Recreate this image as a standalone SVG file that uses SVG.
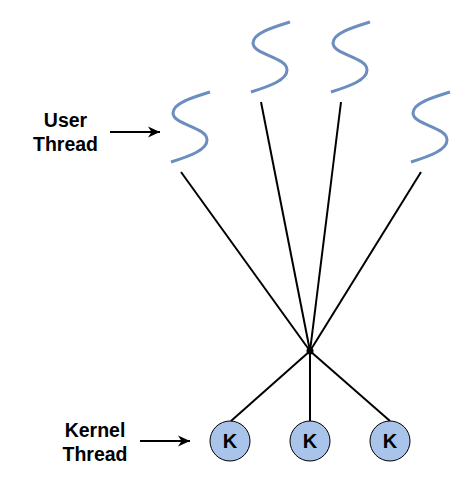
<svg xmlns="http://www.w3.org/2000/svg" width="473" height="486" viewBox="0 0 473 486">
<style>
text{font-family:"Liberation Sans",Arial,sans-serif;font-weight:bold;fill:#000;text-anchor:middle}
.lab{font-size:19.5px}
.k{font-size:20px}
.s{fill:none;stroke:#6c8ebf;stroke-width:3}
.c{fill:#a9c4eb;stroke:#000;stroke-width:1}
.l{fill:none;stroke:#000;stroke-width:2}
</style>
<defs>
<path id="sq" class="s" d="M40,0 C24,5 3,11 3,21 C3,33 37,35 37,48 C37,58 20,64 1,70"/>
<marker id="arr" markerUnits="userSpaceOnUse" markerWidth="13" markerHeight="12" refX="12" refY="6" orient="auto"><path d="M0,0.5 L12,6 L0,11.5 L3.5,6 Z" fill="#000"/></marker>
</defs>
<g id="connectors">
<path class="l" d="M181,172 L310,351"/>
<path class="l" d="M261,102 L310,351"/>
<path class="l" d="M341,102 L310,351"/>
<path class="l" d="M421,172 L310,351"/>
<path class="l" d="M310,351 L231,421"/>
<path class="l" d="M310,351 L310,421"/>
<path class="l" d="M310,351 L390,421"/>
<path class="l" d="M110,132 L160,132" marker-end="url(#arr)"/>
<path class="l" d="M140,441 L190,441" marker-end="url(#arr)"/>
</g>
<g id="junction"><circle cx="310" cy="351" r="3.5" fill="#000"/></g>
<g id="user-thread-1"><use href="#sq" x="170" y="92"/></g>
<g id="user-thread-2"><use href="#sq" x="250" y="22"/></g>
<g id="user-thread-3"><use href="#sq" x="330" y="22"/></g>
<g id="user-thread-4"><use href="#sq" x="410" y="92"/></g>
<g id="kernel-1"><circle class="c" cx="230" cy="441" r="20"/><text class="k" x="230" y="448">K</text></g>
<g id="kernel-2"><circle class="c" cx="310" cy="441" r="20"/><text class="k" x="310" y="448">K</text></g>
<g id="kernel-3"><circle class="c" cx="390" cy="441" r="20"/><text class="k" x="390" y="448">K</text></g>
<g id="user-label"><text class="lab" x="65.5" y="127">User</text><text class="lab" x="65.5" y="151">Thread</text></g>
<g id="kernel-label"><text class="lab" x="95" y="437">Kernel</text><text class="lab" x="95" y="461">Thread</text></g>
</svg>
